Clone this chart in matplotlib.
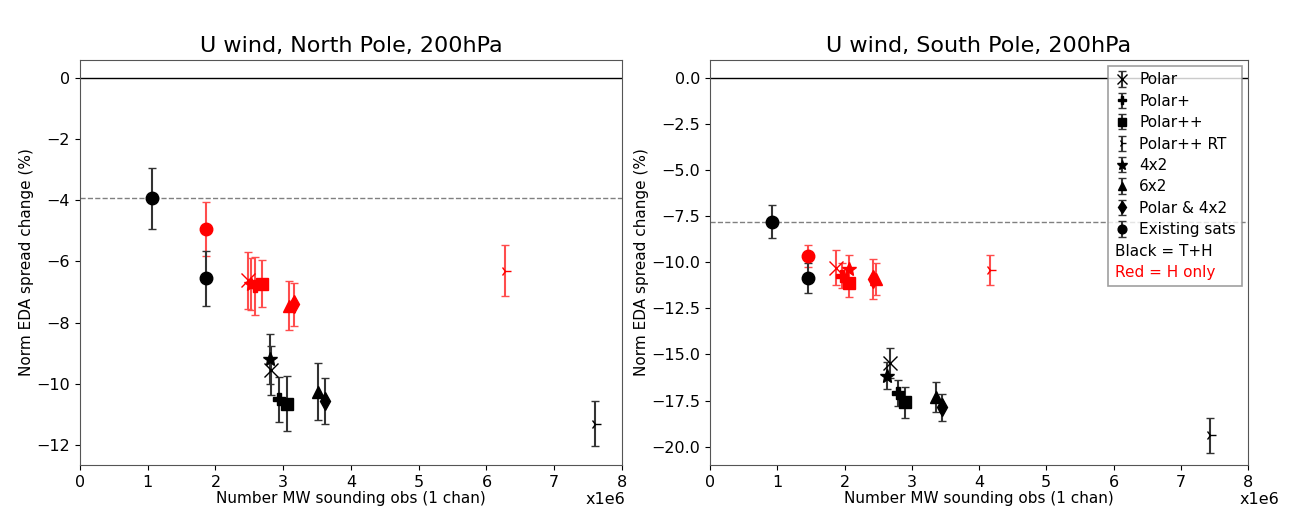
import matplotlib
matplotlib.use("Agg")
import matplotlib.pyplot as plt
from matplotlib.lines import Line2D

# experiment labels and plotting styles
labels = ["Polar", "Polar+", "Polar++", "Polar++ RT", "4x2", "6x2", "Polar & 4x2", "Existing sats"]
markers = ["x", "P", "s", "4", "*", "^", "d", "o"]
msizes = [10, 9, 9, 8, 10, 9, 9, 9]

# North Pole (x in units of 1e6 obs, y in %)
np_black_x = [2.82, 2.94, 3.05, 7.60, 2.80, 3.52, 3.61, 1.07]
np_black_y = [-9.56, -10.50, -10.65, -11.30, -9.18, -10.25, -10.55, -3.94]
np_black_e = [0.80, 0.74, 0.90, 0.74, 0.82, 0.94, 0.75, 1.00]
np_red_x = [2.48, 2.58, 2.68, 6.27, 2.52, 3.08, 3.16, 1.855]
np_red_y = [-6.62, -6.80, -6.72, -6.30, -6.75, -7.45, -7.40, -4.95]
np_red_e = [0.93, 0.95, 0.78, 0.83, 0.85, 0.80, 0.71, 0.88]
np_existing2 = (1.855, -6.55, 0.90)

# South Pole
sp_black_x = [2.68, 2.79, 2.90, 7.44, 2.63, 3.36, 3.45, 0.92]
sp_black_y = [-15.46, -17.09, -17.60, -19.40, -16.15, -17.31, -17.87, -7.80]
sp_black_e = [0.80, 0.72, 0.83, 0.95, 0.75, 0.81, 0.73, 0.90]
sp_red_x = [1.88, 1.97, 2.06, 4.16, 2.07, 2.47, 2.42, 1.46]
sp_red_y = [-10.28, -10.73, -11.13, -10.41, -10.37, -10.91, -10.91, -9.65]
sp_red_e = [0.93, 0.68, 0.76, 0.81, 0.76, 0.85, 1.07, 0.60]
sp_existing2 = (1.46, -10.86, 0.81)


def draw_panel(ax, title, bx, by, be, rx, ry, re, ex2, ref, ylim):
    handles = []
    for i in range(len(labels)):
        h = ax.errorbar(bx[i], by[i], yerr=be[i], fmt=markers[i], color="black",
                        ms=msizes[i], mew=1, ecolor="#333333", elinewidth=1.5,
                        capsize=3, label=labels[i], zorder=3)
        handles.append(h)
        ax.errorbar(rx[i], ry[i], yerr=re[i], fmt=markers[i], color="red",
                    ms=msizes[i], mew=1, ecolor="#ff4d4d", elinewidth=1.5,
                    capsize=3, zorder=3)
    ax.errorbar(ex2[0], ex2[1], yerr=ex2[2], fmt="o", color="black", ms=9,
                ecolor="#333333", elinewidth=1.5, capsize=3, zorder=3)
    ax.axhline(0, color="black", lw=1)
    ax.axhline(ref, color="gray", lw=1, ls="--")
    ax.set_xlim(0, 8)
    ax.set_ylim(*ylim)
    ax.set_xticks(range(9))
    ax.set_title(title, fontsize=16)
    ax.set_xlabel("Number MW sounding obs (1 chan)", fontsize=11, labelpad=1)
    ax.set_ylabel("Norm EDA spread change (%)", fontsize=11, labelpad=2)
    ax.tick_params(labelsize=11.5)
    for s in ax.spines.values():
        s.set_color("#555555")
    return handles


fig = plt.figure(figsize=(12.98, 5.32), dpi=100)
ax1 = fig.add_axes([0.0616, 0.126, 0.4176, 0.761])
ax2 = fig.add_axes([0.547, 0.126, 0.4145, 0.761])

draw_panel(ax1, "U wind, North Pole, 200hPa", np_black_x, np_black_y, np_black_e,
           np_red_x, np_red_y, np_red_e, np_existing2, -3.94, (-12.65, 0.58))
handles = draw_panel(ax2, "U wind, South Pole, 200hPa", sp_black_x, sp_black_y, sp_black_e,
                     sp_red_x, sp_red_y, sp_red_e, sp_existing2, -7.8, (-21.0, 0.98))

ax1.text(0.97, -0.085, "x1e6", transform=ax1.transAxes, ha="center", va="center", fontsize=11.5)
ax2.text(1.022, -0.085, "x1e6", transform=ax2.transAxes, ha="center", va="center", fontsize=11.5)

blank = Line2D([], [], linestyle="none")
leg = ax2.legend(handles + [blank, blank], labels + ["Black = T+H", "Red = H only"],
                 loc="upper right", fontsize=11, fancybox=False, edgecolor="#888888",
                 handlelength=1.0, handletextpad=0.6, borderaxespad=0.4,
                 labelspacing=0.42, markerscale=0.7)
leg.get_frame().set_linewidth(1.2)
leg.get_texts()[-1].set_color("red")
# let the two note lines start where the markers are
for hp in leg._legend_handle_box.get_children()[0].get_children()[-2:]:
    hp.get_children()[0].width = 0
    hp.sep = 0

fig.savefig("out.png", dpi=100)
